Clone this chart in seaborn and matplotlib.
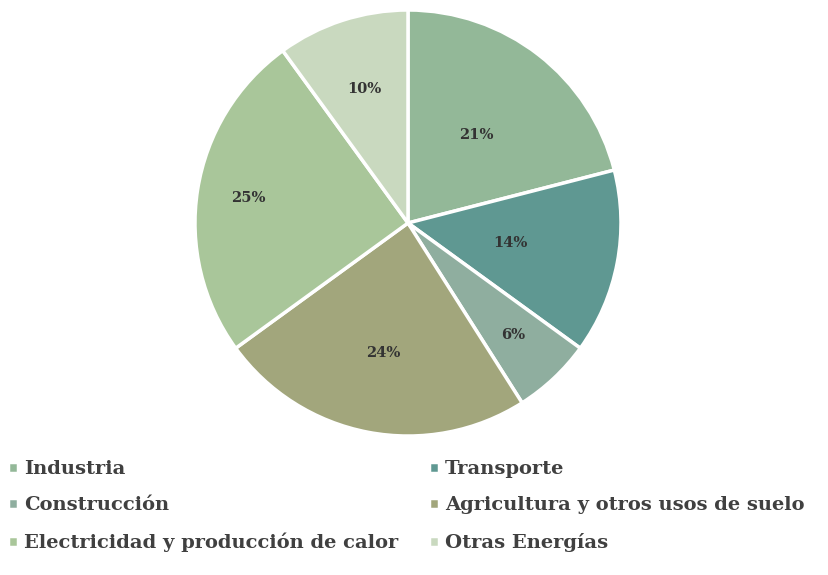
import matplotlib
matplotlib.use("Agg")
import matplotlib.pyplot as plt
import seaborn as sns
import numpy as np

# Data
categories = ["Industria", "Transporte", "Construcción",
              "Agricultura y otros usos de suelo",
              "Electricidad y producción de calor", "Otras Energías"]
shares = [21, 14, 6, 24, 25, 10]
colors = ["#93b898", "#5f9892", "#8fae9f", "#a2a67c", "#a9c69a", "#c9d9bf"]
# radial position of each percent label (layout only)
label_dist = [0.52, 0.49, 0.72, 0.62, 0.76, 0.66]

sns.set_theme(style="white")
plt.rcParams['font.family'] = ['DejaVu Serif']

fig = plt.figure(figsize=(8.29, 5.75), dpi=100)
ax = fig.add_axes([0.2352, 0.2417, 0.5139, 0.7409])

wedges, texts, autotexts = ax.pie(
    shares, colors=colors, startangle=90, counterclock=False,
    autopct='%1.0f%%', pctdistance=0.6,
    wedgeprops=dict(edgecolor='white', linewidth=2.5),
    textprops=dict(fontsize=10.5, fontweight='bold', color='#333333'))

# move the percent labels to their radial spots
for w, t, d in zip(wedges, autotexts, label_dist):
    ang = np.deg2rad((w.theta1 + w.theta2) / 2)
    t.set_position((d * np.cos(ang), d * np.sin(ang)))

ax.set_xlim(-1, 1)
ax.set_ylim(-1, 1)
ax.set_aspect('equal')
ax.axis('off')

# legend in two columns, filled row by row
left = [0, 2, 4]
right = [1, 3, 5]
for idx, x in [(left, 0.010), (right, 0.518)]:
    fig.legend([wedges[i] for i in idx], [categories[i] for i in idx],
               loc='upper left', bbox_to_anchor=(x, 0.2), frameon=False,
               borderpad=0, borderaxespad=0,
               handlelength=0.5, handleheight=0.5, handletextpad=0.3,
               labelspacing=0.95,
               prop=dict(size=14, weight='bold'), labelcolor='#404040')

fig.savefig("out.png", dpi=100)
